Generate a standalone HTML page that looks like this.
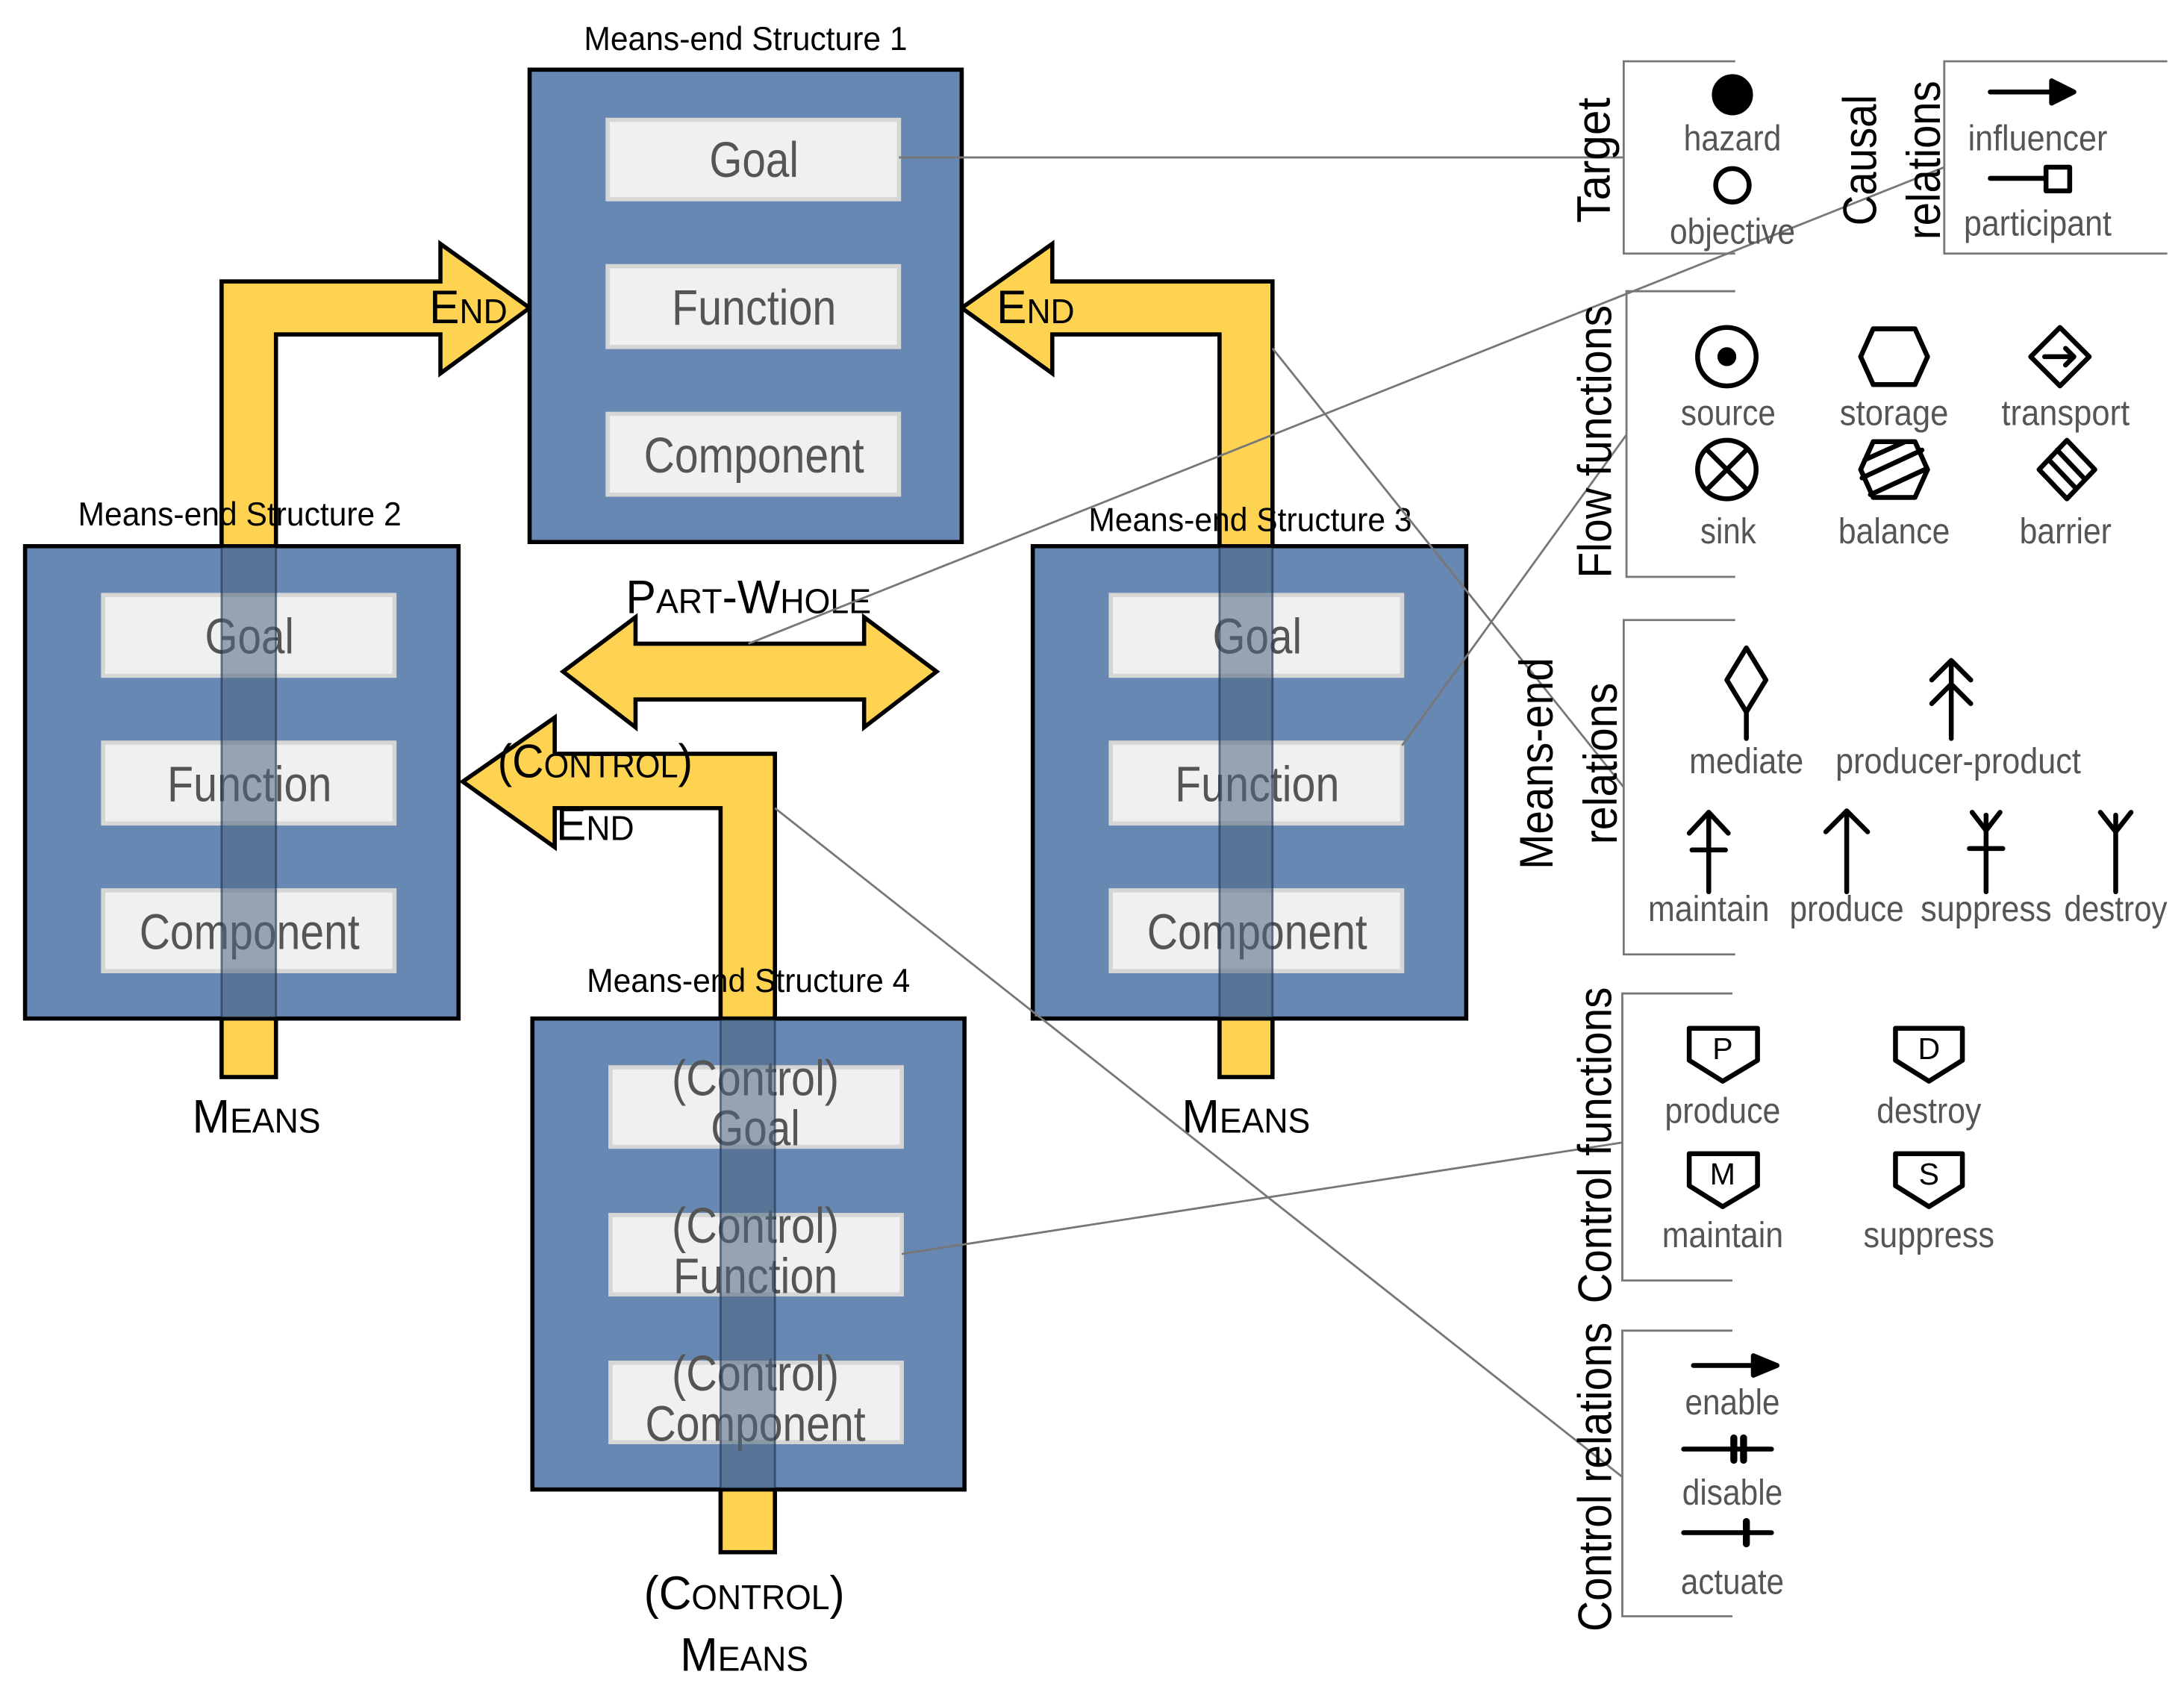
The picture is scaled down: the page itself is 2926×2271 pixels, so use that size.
<!DOCTYPE html>
<html><head><meta charset="utf-8"><style>
html,body{margin:0;padding:0;background:#fff}
svg{display:block}
text{font-family:"Liberation Sans",sans-serif}
.in{font-size:36px;fill:#555;text-anchor:middle}
.tt{font-size:24px;fill:#000;text-anchor:middle}
.lg{font-size:26px;fill:#555;text-anchor:middle}
.vl{font-size:34px;fill:#000;text-anchor:middle}
.cap{font-size:34px;fill:#000;text-anchor:middle}
.sm{font-size:25px}
</style></head><body>
<svg width="2926" height="2271" viewBox="0 0 1567 1216.5" preserveAspectRatio="none" xmlns="http://www.w3.org/2000/svg">
<g fill="#ffd352" stroke="#000" stroke-width="3" stroke-linejoin="miter">
<polygon points="159,773 159,202 316,202 316,175 380,221 316,268 316,240 198,240 198,773"/>
<polygon points="913,773 913,202 755,202 755,175 690,221 755,268 755,240 875,240 875,773"/>
<polygon points="556,1114 556,541 398,541 398,515 332,561 398,608 398,580 517,580 517,1114"/>
<polygon points="404,482 456,443 456,462 620,462 620,443 672,482 620,522 620,502 456,502 456,522"/>
</g>
<g stroke="#000" stroke-width="3" fill="#6788b3">
<rect x="380" y="50" width="310" height="339"/>
<rect x="18" y="392" width="311" height="339"/>
<rect x="741" y="392" width="311" height="339"/>
<rect x="382" y="731" width="310" height="338"/>
</g>
<g fill="#f0f0f0" stroke="#d6d6d6" stroke-width="3">
<rect x="436" y="86" width="209" height="57"/><rect x="436" y="191" width="209" height="58"/><rect x="436" y="297" width="209" height="58"/>
<rect x="74" y="427" width="209" height="58"/><rect x="74" y="533" width="209" height="58"/><rect x="74" y="639" width="209" height="58"/>
<rect x="797" y="427" width="209" height="58"/><rect x="797" y="533" width="209" height="58"/><rect x="797" y="639" width="209" height="58"/>
<rect x="438" y="766" width="209" height="57"/><rect x="438" y="872" width="209" height="57"/><rect x="438" y="978" width="209" height="57"/>
</g>
<g class="in">
<text class="in" x="541" y="127" textLength="64" lengthAdjust="spacingAndGlyphs">Goal</text><text class="in" x="541" y="233" textLength="118" lengthAdjust="spacingAndGlyphs">Function</text><text class="in" x="541" y="339" textLength="158" lengthAdjust="spacingAndGlyphs">Component</text>
<text class="in" x="179" y="469" textLength="64" lengthAdjust="spacingAndGlyphs">Goal</text><text class="in" x="179" y="575" textLength="118" lengthAdjust="spacingAndGlyphs">Function</text><text class="in" x="179" y="681" textLength="158" lengthAdjust="spacingAndGlyphs">Component</text>
<text class="in" x="902" y="469" textLength="64" lengthAdjust="spacingAndGlyphs">Goal</text><text class="in" x="902" y="575" textLength="118" lengthAdjust="spacingAndGlyphs">Function</text><text class="in" x="902" y="681" textLength="158" lengthAdjust="spacingAndGlyphs">Component</text>
<text class="in" x="542" y="786" textLength="120" lengthAdjust="spacingAndGlyphs">(Control)</text><text class="in" x="542" y="822" textLength="64" lengthAdjust="spacingAndGlyphs">Goal</text>
<text class="in" x="542" y="892" textLength="120" lengthAdjust="spacingAndGlyphs">(Control)</text><text class="in" x="542" y="928" textLength="118" lengthAdjust="spacingAndGlyphs">Function</text>
<text class="in" x="542" y="998" textLength="120" lengthAdjust="spacingAndGlyphs">(Control)</text><text class="in" x="542" y="1034" textLength="158" lengthAdjust="spacingAndGlyphs">Component</text>
</g>
<g fill="#4d6680" opacity="0.55">
<rect x="159" y="393" width="39" height="337"/>
<rect x="875" y="393" width="38" height="337"/>
<rect x="517" y="732" width="39" height="336"/>
</g>
<g stroke="#1d2e48" stroke-width="1.5" opacity="0.6" fill="none">
<line x1="159" y1="393" x2="159" y2="730"/><line x1="198" y1="393" x2="198" y2="730"/>
<line x1="875" y1="393" x2="875" y2="730"/><line x1="913" y1="393" x2="913" y2="730"/>
<line x1="517" y1="732" x2="517" y2="1068"/><line x1="556" y1="732" x2="556" y2="1068"/>
</g>
<text class="tt" x="535" y="36" textLength="232" lengthAdjust="spacingAndGlyphs">Means-end Structure 1</text>
<text class="tt" x="172" y="377" textLength="232" lengthAdjust="spacingAndGlyphs">Means-end Structure 2</text>
<text class="tt" x="897" y="381" textLength="232" lengthAdjust="spacingAndGlyphs">Means-end Structure 3</text>
<text class="tt" x="537" y="712" textLength="232" lengthAdjust="spacingAndGlyphs">Means-end Structure 4</text>
<text class="cap" x="336" y="232" textLength="56" lengthAdjust="spacingAndGlyphs">E<tspan class="sm">ND</tspan></text>
<text class="cap" x="743" y="232" textLength="56" lengthAdjust="spacingAndGlyphs">E<tspan class="sm">ND</tspan></text>
<text class="cap" x="184" y="813" textLength="92" lengthAdjust="spacingAndGlyphs">M<tspan class="sm">EANS</tspan></text>
<text class="cap" x="894" y="813" textLength="92" lengthAdjust="spacingAndGlyphs">M<tspan class="sm">EANS</tspan></text>
<text class="cap" x="427" y="558" textLength="140" lengthAdjust="spacingAndGlyphs">(C<tspan class="sm">ONTROL</tspan>)</text>
<text class="cap" x="427" y="603" textLength="56" lengthAdjust="spacingAndGlyphs">E<tspan class="sm">ND</tspan></text>
<text class="cap" x="537" y="440" textLength="176" lengthAdjust="spacingAndGlyphs">P<tspan class="sm">ART</tspan>-W<tspan class="sm">HOLE</tspan></text>
<text class="cap" x="534" y="1155" textLength="144" lengthAdjust="spacingAndGlyphs">(C<tspan class="sm">ONTROL</tspan>)</text>
<text class="cap" x="534" y="1199" textLength="92" lengthAdjust="spacingAndGlyphs">M<tspan class="sm">EANS</tspan></text>
<g stroke="#777" stroke-width="1.5" fill="none">
<line x1="645" y1="113" x2="1165" y2="113"/>
<line x1="537" y1="462" x2="1395" y2="120"/>
<line x1="913" y1="250" x2="1165" y2="565"/>
<line x1="1006" y1="535" x2="1167" y2="312"/>
<line x1="647" y1="900" x2="1164" y2="820"/>
<line x1="556" y1="580" x2="1164" y2="1060"/>
<polyline points="1245,44 1165,44 1165,182 1245,182"/>
<polyline points="1555,44 1395,44 1395,182 1555,182"/>
<polyline points="1245,209 1167,209 1167,414 1245,414"/>
<polyline points="1245,445 1165,445 1165,685 1245,685"/>
<polyline points="1243,713 1164,713 1164,919 1243,919"/>
<polyline points="1243,955 1164,955 1164,1160 1243,1160"/>
</g>
<text class="vl" transform="translate(1155,115) rotate(-90)" textLength="90" lengthAdjust="spacingAndGlyphs">Target</text>
<text class="vl" transform="translate(1346,115) rotate(-90)" textLength="94" lengthAdjust="spacingAndGlyphs">Causal</text>
<text class="vl" transform="translate(1392,115) rotate(-90)" textLength="114" lengthAdjust="spacingAndGlyphs">relations</text>
<text class="vl" transform="translate(1156,317) rotate(-90)" textLength="196" lengthAdjust="spacingAndGlyphs">Flow functions</text>
<text class="vl" transform="translate(1114,548) rotate(-90)" textLength="152" lengthAdjust="spacingAndGlyphs">Means-end</text>
<text class="vl" transform="translate(1160,548) rotate(-90)" textLength="116" lengthAdjust="spacingAndGlyphs">relations</text>
<text class="vl" transform="translate(1156,822) rotate(-90)" textLength="227" lengthAdjust="spacingAndGlyphs">Control functions</text>
<text class="vl" transform="translate(1156,1060) rotate(-90)" textLength="222" lengthAdjust="spacingAndGlyphs">Control relations</text>
<g stroke="#000" stroke-width="3.5" fill="none" stroke-linecap="round" stroke-linejoin="round">
<circle cx="1243" cy="68" r="13" fill="#000"/>
<circle cx="1243" cy="133" r="12"/>
<line x1="1428" y1="66" x2="1475" y2="66"/>
<polygon points="1472,58 1488,66 1472,74" fill="#000"/>
<line x1="1428" y1="128" x2="1468" y2="128"/>
<rect x="1468" y="120" width="17" height="17"/>
<circle cx="1239" cy="256" r="21"/><circle cx="1239" cy="256" r="5" fill="#000"/>
<polygon points="1344,236 1374,236 1383,256 1374,276 1344,276 1335,256"/>
<polygon points="1478,235 1499,256 1478,277 1457,256"/>
<line x1="1467" y1="256" x2="1487" y2="256"/><polyline points="1482,250 1488,256 1482,262"/>
<circle cx="1239" cy="337" r="21"/><line x1="1225" y1="323" x2="1253" y2="351"/><line x1="1253" y1="323" x2="1225" y2="351"/>
<polygon points="1344,317 1374,317 1383,337 1374,357 1344,357 1335,337"/>
<line x1="1338" y1="330" x2="1367" y2="317"/><line x1="1336" y1="343" x2="1379" y2="323"/><line x1="1342" y1="355" x2="1381" y2="337"/>
<polygon points="1483,316 1503,337 1483,358 1463,337"/>
<line x1="1470" y1="330" x2="1489" y2="350"/><line x1="1476" y1="323" x2="1495" y2="343"/>
<polygon points="1253,465 1267,488 1253,511 1239,488"/><line x1="1253" y1="511" x2="1253" y2="530"/>
<line x1="1400" y1="475" x2="1400" y2="530"/><polyline points="1386,488 1400,474 1414,488"/><polyline points="1386,505 1400,491 1414,505"/>
<line x1="1226" y1="583" x2="1226" y2="640"/><polyline points="1212,598 1226,583 1240,598"/><line x1="1214" y1="610" x2="1238" y2="610"/>
<line x1="1325" y1="582" x2="1325" y2="640"/><polyline points="1310,597 1325,582 1340,597"/>
<line x1="1425" y1="585" x2="1425" y2="640"/><polyline points="1415,583 1425,596 1435,583"/><line x1="1413" y1="609" x2="1437" y2="609"/>
<line x1="1518" y1="585" x2="1518" y2="640"/><polyline points="1507,583 1518,597 1529,583"/>
<polygon points="1212,738 1261,738 1261,761 1236,776 1212,761"/>
<polygon points="1360,738 1408,738 1408,761 1384,776 1360,761"/>
<polygon points="1212,828 1261,828 1261,851 1236,866 1212,851"/>
<polygon points="1360,828 1408,828 1408,851 1384,866 1360,851"/>
<line x1="1215" y1="980" x2="1262" y2="980"/><polygon points="1258,973 1275,980 1258,987" fill="#000"/>
<line x1="1208" y1="1040" x2="1271" y2="1040"/><line x1="1244" y1="1032" x2="1244" y2="1048" stroke-width="5"/><line x1="1251" y1="1032" x2="1251" y2="1048" stroke-width="5"/>
<line x1="1208" y1="1100" x2="1271" y2="1100"/><line x1="1253" y1="1092" x2="1253" y2="1108" stroke-width="5"/>
</g>
<g font-family="Liberation Sans" font-size="22" text-anchor="middle" fill="#000">
<text x="1236" y="760">P</text><text x="1384" y="760">D</text><text x="1236" y="850">M</text><text x="1384" y="850">S</text>
</g>
<text class="lg" x="1243" y="108" textLength="70" lengthAdjust="spacingAndGlyphs">hazard</text>
<text class="lg" x="1243" y="175" textLength="90" lengthAdjust="spacingAndGlyphs">objective</text>
<text class="lg" x="1462" y="108" textLength="100" lengthAdjust="spacingAndGlyphs">influencer</text>
<text class="lg" x="1462" y="169" textLength="106" lengthAdjust="spacingAndGlyphs">participant</text>
<text class="lg" x="1240" y="305" textLength="68" lengthAdjust="spacingAndGlyphs">source</text>
<text class="lg" x="1359" y="305" textLength="78" lengthAdjust="spacingAndGlyphs">storage</text>
<text class="lg" x="1482" y="305" textLength="92" lengthAdjust="spacingAndGlyphs">transport</text>
<text class="lg" x="1240" y="390" textLength="40" lengthAdjust="spacingAndGlyphs">sink</text>
<text class="lg" x="1359" y="390" textLength="80" lengthAdjust="spacingAndGlyphs">balance</text>
<text class="lg" x="1482" y="390" textLength="66" lengthAdjust="spacingAndGlyphs">barrier</text>
<text class="lg" x="1253" y="555" textLength="82" lengthAdjust="spacingAndGlyphs">mediate</text>
<text class="lg" x="1405" y="555" textLength="176" lengthAdjust="spacingAndGlyphs">producer-product</text>
<text class="lg" x="1226" y="661" textLength="87" lengthAdjust="spacingAndGlyphs">maintain</text>
<text class="lg" x="1325" y="661" textLength="82" lengthAdjust="spacingAndGlyphs">produce</text>
<text class="lg" x="1425" y="661" textLength="94" lengthAdjust="spacingAndGlyphs">suppress</text>
<text class="lg" x="1518" y="661" textLength="74" lengthAdjust="spacingAndGlyphs">destroy</text>
<text class="lg" x="1236" y="806" textLength="83" lengthAdjust="spacingAndGlyphs">produce</text>
<text class="lg" x="1384" y="806" textLength="75" lengthAdjust="spacingAndGlyphs">destroy</text>
<text class="lg" x="1236" y="895" textLength="87" lengthAdjust="spacingAndGlyphs">maintain</text>
<text class="lg" x="1384" y="895" textLength="94" lengthAdjust="spacingAndGlyphs">suppress</text>
<text class="lg" x="1243" y="1015" textLength="68" lengthAdjust="spacingAndGlyphs">enable</text>
<text class="lg" x="1243" y="1080" textLength="72" lengthAdjust="spacingAndGlyphs">disable</text>
<text class="lg" x="1243" y="1144" textLength="74" lengthAdjust="spacingAndGlyphs">actuate</text>
</svg>
</body></html>
